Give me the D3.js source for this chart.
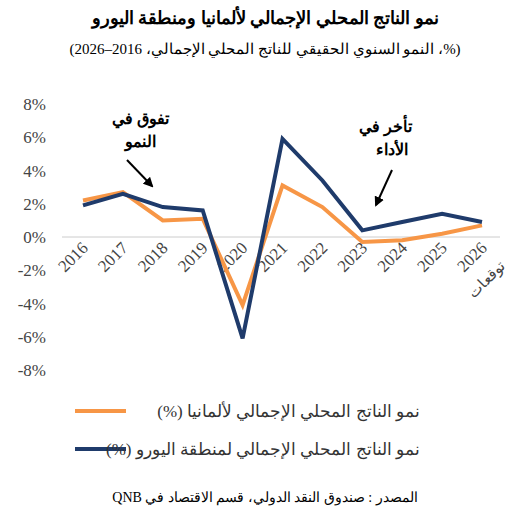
<!DOCTYPE html>
<html><head><meta charset="utf-8">
<script src="https://cdn.jsdelivr.net/npm/d3@7"></script>
<style>body{margin:0;background:#fff}</style>
</head><body>
<div class="canva"></div>
<script>
const years = ["2016","2017","2018","2019","2020","2021","2022","2023","2024","2025","2026"];
const germany = [2.2, 2.7, 1.0, 1.1, -4.1, 3.1, 1.8, -0.3, -0.2, 0.2, 0.7];
const euroArea = [1.9, 2.6, 1.8, 1.6, -6.1, 5.9, 3.4, 0.4, 0.9, 1.4, 0.9];
const yTicks = [8, 6, 4, 2, 0, -2, -4, -6, -8];

const font = "'Liberation Serif', 'DejaVu Serif', serif";
const svg = d3.select(".canva").append("svg")
              .attr("width", 519).attr("height", 524)
              .style("font-family", font);

const x = d3.scalePoint().domain(years).range([83, 482]);
const y = d3.scaleLinear().domain([-8, 8]).range([370, 104]);

// title
svg.append("text").attr("x", 265).attr("y", 24).attr("text-anchor", "middle")
   .attr("font-size", 18).attr("font-weight", "bold").attr("direction", "rtl")
   .text("نمو الناتج المحلي الإجمالي لألمانيا ومنطقة اليورو");
svg.append("text").attr("x", 265).attr("y", 54).attr("text-anchor", "middle")
   .attr("font-size", 15).attr("direction", "rtl")
   .text("(%، النمو السنوي الحقيقي للناتج المحلي الإجمالي، 2016–2026)");

// y axis labels
svg.selectAll(".yt").data(yTicks).join("text")
   .attr("x", 46).attr("y", d => y(d) + 6).attr("text-anchor", "end")
   .attr("font-size", 17).attr("fill", "#444").text(d => d + "%");

// zero line
svg.append("line").attr("x1", 62).attr("x2", 500)
   .attr("y1", y(0)).attr("y2", y(0)).attr("stroke", "#ccc");

// x labels rotated
svg.selectAll(".xt").data(years).join("text")
   .attr("transform", d => `translate(${x(d) + 6},${y(0) + 12}) rotate(-45)`)
   .attr("text-anchor", "end").attr("font-size", 17).attr("fill", "#444")
   .text(d => d);
svg.append("text")
   .attr("transform", `translate(${x("2026") + 24},${y(0) + 30}) rotate(-45)`)
   .attr("text-anchor", "end").attr("font-size", 15).attr("fill", "#444")
   .text("توقعات");

const line = d3.line().x((d, i) => x(years[i])).y(d => y(d));
svg.append("path").datum(germany).attr("d", line).attr("fill", "none")
   .attr("stroke", "#f79646").attr("stroke-width", 4);
svg.append("path").datum(euroArea).attr("d", line).attr("fill", "none")
   .attr("stroke", "#1f3b6b").attr("stroke-width", 4);

// annotations
svg.append("defs").append("marker").attr("id", "ar").attr("viewBox", "0 0 10 10")
   .attr("refX", 8).attr("refY", 5).attr("markerWidth", 5).attr("markerHeight", 5)
   .attr("orient", "auto").append("path").attr("d", "M0,0L10,5L0,10z").attr("fill", "#000");
[["تفوق في", 140, 124], ["النمو", 140, 147], ["تأخر في", 385, 132], ["الأداء", 392, 155]]
  .forEach(t => svg.append("text").attr("x", t[1]).attr("y", t[2]).attr("text-anchor", "middle")
     .attr("font-size", 16).attr("font-weight", "bold").text(t[0]));
svg.append("line").attr("x1", 127).attr("y1", 160).attr("x2", 152).attr("y2", 186)
   .attr("stroke", "#000").attr("stroke-width", 2).attr("marker-end", "url(#ar)");
svg.append("line").attr("x1", 392).attr("y1", 170).attr("x2", 376).attr("y2", 205)
   .attr("stroke", "#000").attr("stroke-width", 2).attr("marker-end", "url(#ar)");

// legend
const legend = [["نمو الناتج المحلي الإجمالي لألمانيا (%)", "#f79646", 411],
                ["نمو الناتج المحلي الإجمالي لمنطقة اليورو (%)", "#1f3b6b", 449]];
legend.forEach(l => {
  svg.append("line").attr("x1", 75).attr("x2", 126).attr("y1", l[2]).attr("y2", l[2])
     .attr("stroke", l[1]).attr("stroke-width", 4);
  svg.append("text").attr("x", 420).attr("y", l[2] + 6).attr("text-anchor", "start")
     .attr("font-size", 17).attr("fill", "#333").attr("direction", "rtl").text(l[0]);
});

svg.append("text").attr("x", 265).attr("y", 502).attr("text-anchor", "middle")
   .attr("font-size", 14).attr("direction", "rtl")
   .text("المصدر : صندوق النقد الدولي، قسم الاقتصاد في QNB");
</script>
</body></html>
